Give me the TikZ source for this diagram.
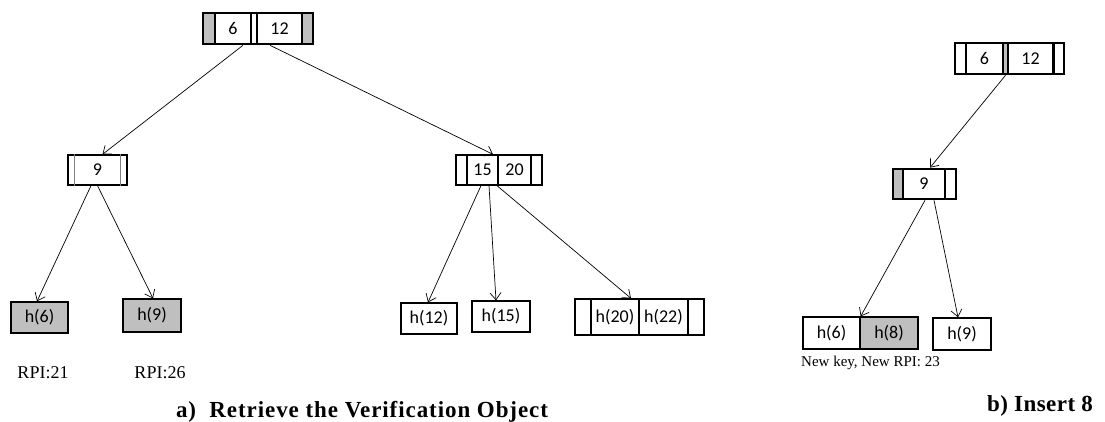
\documentclass[tikz,border=0pt]{standalone}
\usepackage{fontspec}
\setmainfont{Liberation Serif}
\newfontfamily\boxfont{Carlito}
\newfontfamily\ttlfont[LetterSpace=4]{Liberation Serif}
\newfontfamily\ttlbfont[LetterSpace=2]{Liberation Serif}
\usetikzlibrary{arrows.meta}
\definecolor{cellgray}{HTML}{BFBFBF}
\definecolor{slotgray}{HTML}{808080}
\tikzset{
  cell/.style={draw, inner sep=0pt, line width=1.3pt, font=\boxfont\fontsize{18}{18}\selectfont},
  thickcell/.style={cell, line width=2.6pt},
  arr/.style={-{Straight Barb[length=7pt,width=11pt]}, line width=0.7pt},
  lbl/.style={inner sep=0pt, font=\fontsize{18}{18}\selectfont},
  smalllbl/.style={inner sep=0pt, font=\fontsize{15}{15}\selectfont},
  ttl/.style={inner sep=0pt, anchor=base, font=\ttlfont\bfseries\fontsize{23}{23}\selectfont},
  ttlb/.style={inner sep=0pt, anchor=base, font=\ttlbfont\bfseries\fontsize{23}{23}\selectfont},
  slotline/.style={draw=slotgray, line width=1.4pt}
}
\begin{document}
\begin{tikzpicture}[x=1pt,y=-1pt]
\useasboundingbox (0,0) rectangle (1105,421);

% ---------- a) root ----------
\node[thickcell, fill=cellgray, minimum width=12pt, minimum height=31pt] (ra1) at (209,28.5) {};
\node[thickcell, minimum width=36pt, minimum height=31pt] (ra2) at (233,28.5) {6};
\node[thickcell, minimum width=6pt, minimum height=31pt] (ra3) at (254,28.5) {};
\node[thickcell, minimum width=45pt, minimum height=31pt] (ra4) at (279.5,28.5) {12};
\node[thickcell, fill=cellgray, minimum width=11pt, minimum height=31pt] (ra5) at (307.5,28.5) {};

% ---------- a) node 9 ----------
\node[cell, minimum width=59pt, minimum height=30pt] (n9a) at (97.5,170) {9};
\draw[slotline] ([xshift=7pt]n9a.north west) -- ([xshift=7pt]n9a.south west);
\draw[slotline] ([xshift=-7pt]n9a.north east) -- ([xshift=-7pt]n9a.south east);

% ---------- a) node 15 20 ----------
\node[cell, minimum width=11pt, minimum height=30pt] (c1) at (461.5,170) {};
\node[cell, minimum width=31pt, minimum height=30pt] (c15) at (482.5,170) {15};
\node[cell, minimum width=33pt, minimum height=30pt] (c20) at (514.5,170) {20};
\node[cell, minimum width=11pt, minimum height=30pt] (c4) at (536.5,170) {};

% ---------- a) leaves ----------
\node[cell, fill=cellgray, minimum width=57pt, minimum height=31pt] (h6a) at (39.5,317.5) {h(6)};
\node[cell, fill=cellgray, minimum width=58pt, minimum height=33pt] (h9a) at (152,315.5) {h(9)};
\node[cell, minimum width=56pt, minimum height=31pt] (h12) at (429,318.5) {h(12)};
\node[cell, minimum width=58pt, minimum height=31pt] (h15) at (501,316.5) {h(15)};
\node[cell, minimum width=16pt, minimum height=36pt] (d1) at (583,317) {};
\node[cell, minimum width=48pt, minimum height=36pt] (h20) at (615,317) {h(20)};
\node[cell, minimum width=49pt, minimum height=36pt] (h22) at (663.5,317) {h(22)};
\node[cell, minimum width=16pt, minimum height=36pt] (d4) at (696,317) {};

\node[lbl] (rpi21) at (43,373) {RPI:21};
\node[lbl] (rpi26) at (160,373) {RPI:26};
\node[ttl] (ta) at (362,417) {a)\ \ Retrieve the Verification Object};

% ---------- a) connectors ----------
\draw[arr] ([xshift=10pt]ra2.south) -- ([xshift=5pt]n9a.north);
\draw[arr] ([xshift=-9.5pt]ra4.south) -- ([xshift=10.5pt]c15.north);
\draw[arr] ([xshift=-6.5pt]n9a.south) -- ([xshift=-2.5pt]h6a.north);
\draw[arr] (n9a.south) -- ([xshift=1pt]h9a.north);
\draw[arr] ([xshift=-1.5pt]c15.south) -- ([xshift=-1pt]h12.north);
\draw[arr] ([xshift=6.5pt]c15.south) -- ([xshift=-5pt]h15.north);
\draw[arr] ([xshift=14.5pt]c15.south) -- ([xshift=16pt]h20.north);

% ---------- b) root ----------
\node[thickcell, minimum width=11pt, minimum height=31pt] (rb1) at (960.5,58.5) {};
\node[thickcell, minimum width=37pt, minimum height=31pt] (rb2) at (984.5,58.5) {6};
\node[thickcell, fill=cellgray, minimum width=5pt, minimum height=31pt] (rb3) at (1005.5,58.5) {};
\node[thickcell, minimum width=45pt, minimum height=31pt] (rb4) at (1030.5,58.5) {12};
\node[thickcell, minimum width=11pt, minimum height=31pt] (rb5) at (1058.5,58.5) {};
\fill (rb5.north west) rectangle ([xshift=3.5pt]rb5.south west);

% ---------- b) node 9 ----------
\node[thickcell, fill=cellgray, minimum width=10pt, minimum height=30pt] (nb1) at (898,184) {};
\node[thickcell, minimum width=42pt, minimum height=30pt] (nb2) at (924,184) {9};
\node[thickcell, minimum width=11pt, minimum height=30pt] (nb3) at (950.5,184) {};

% ---------- b) leaves ----------
\node[cell, minimum width=57pt, minimum height=32pt] (hb6) at (831.5,333) {h(6)};
\node[cell, fill=cellgray, minimum width=58pt, minimum height=32pt] (hb8) at (889,333) {h(8)};
\node[cell, minimum width=58pt, minimum height=32pt] (hb9) at (962,334) {h(9)};

\node[smalllbl] (newkey) at (870.5,363) {New key, New RPI: 23};
\node[ttlb] (tb) at (1040,411) {b)\ Insert 8};

% ---------- b) connectors ----------
\draw[arr] (rb3.south) -- ([xshift=6pt]nb2.north);
\draw[arr] ([xshift=1pt]nb2.south) -- (hb6.north east);
\draw[arr] ([xshift=10pt]nb2.south) -- ([xshift=-4pt]hb9.north);
\end{tikzpicture}
\end{document}
